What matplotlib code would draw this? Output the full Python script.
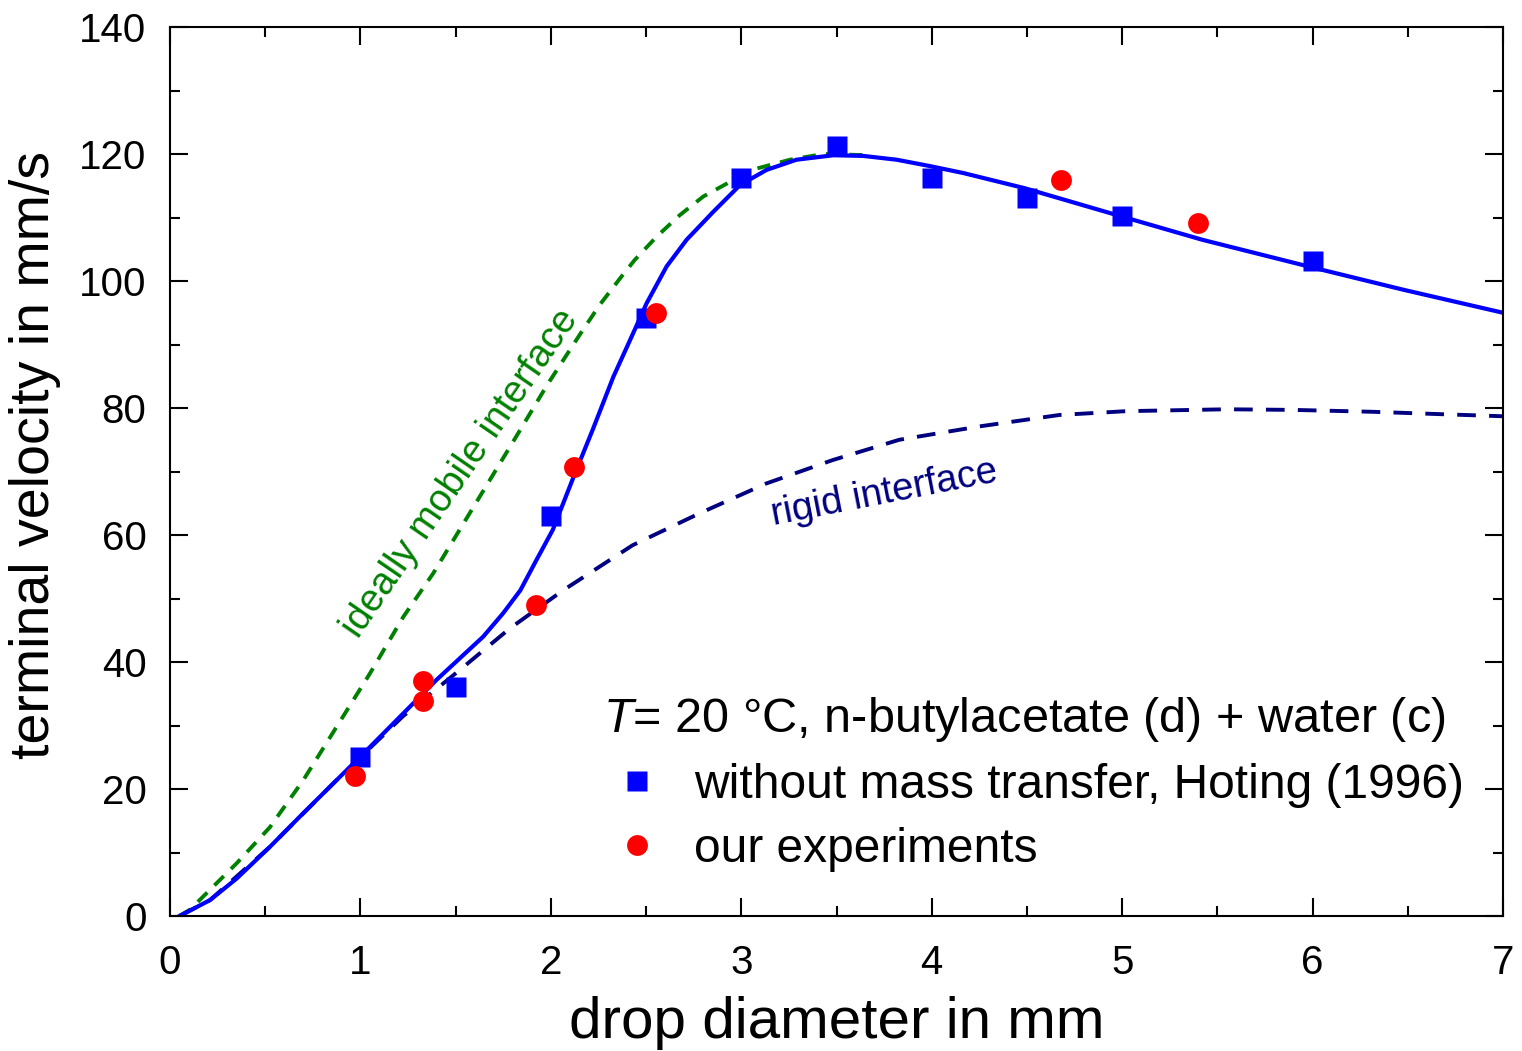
import matplotlib
matplotlib.use("Agg")
import matplotlib.pyplot as plt
from matplotlib.ticker import MultipleLocator
from matplotlib.lines import Line2D

plt.rcParams['font.family'] = ['Liberation Sans', 'DejaVu Sans']
plt.rcParams['mathtext.fontset'] = 'custom'
plt.rcParams['mathtext.it'] = 'Liberation Sans:italic'
plt.rcParams['mathtext.rm'] = 'Liberation Sans'

# Hoting (1996), without mass transfer
hoting_d = [1.0, 1.5, 2.0, 2.5, 3.0, 3.5, 4.0, 4.5, 5.0, 6.0]
hoting_v = [25, 36, 63, 94.2, 116.2, 121.3, 116.2, 113.1, 110.2, 103.1]

# our experiments
exp_d = [0.97, 1.33, 1.33, 1.92, 2.12, 2.55, 4.68, 5.40]
exp_v = [22.0, 37.0, 33.9, 49.0, 70.7, 95.0, 115.9, 109.1]

# model curve (solid)
model_d = [0.05, 0.21, 0.35, 0.525, 0.70, 0.875, 1.0, 1.225, 1.40, 1.645, 1.75, 1.84,
           1.925, 2.01, 2.12, 2.22, 2.328, 2.416, 2.503, 2.608, 2.713, 2.853, 2.993,
           3.133, 3.29, 3.483, 3.64, 3.816, 3.99, 4.166, 4.49, 4.97, 5.42, 5.99, 6.48, 7.0]
model_v = [0.0, 2.5, 5.9, 10.9, 16.2, 21.4, 25.1, 31.9, 37.2, 44.0, 47.7, 51.3,
           56.1, 60.8, 69.2, 76.6, 84.9, 90.7, 96.5, 102.3, 106.5, 110.9, 115.1,
           117.5, 119.1, 119.8, 119.7, 119.1, 118.1, 117.0, 114.6, 110.4, 106.5, 102.2, 98.6, 95.0]

# ideally mobile interface (green dashed)
mobile_d = [0.05, 0.105, 0.35, 0.525, 0.70, 0.875, 1.05, 1.225, 1.383, 1.82, 1.98,
            2.153, 2.258, 2.363, 2.44, 2.556, 2.678, 2.80, 2.94, 3.08, 3.256, 3.43, 3.676]
mobile_v = [0.0, 1.0, 8.3, 14.0, 21.4, 29.8, 38.2, 47.1, 54.0, 75.6, 83.6,
            91.6, 96.3, 100.4, 103.3, 107.0, 110.4, 113.3, 115.6, 117.7, 119.1, 120.0, 119.8]

# rigid interface (navy dashed)
rigid_d = [0.05, 0.21, 0.525, 0.875, 1.0, 1.225, 1.52, 1.785, 2.065, 2.43, 2.78, 3.13,
           3.48, 3.83, 4.25, 4.67, 5.02, 5.55, 5.9, 6.32, 6.7, 7.0]
rigid_v = [0.0, 2.5, 10.9, 21.4, 25.0, 31.5, 38.7, 45.3, 51.3, 58.4, 63.4, 68.1,
           71.8, 75.0, 77.1, 78.9, 79.5, 79.8, 79.7, 79.4, 79.0, 78.7]

fig = plt.figure(figsize=(15.22, 10.51), dpi=100)
ax = fig.add_axes([170/1522, 1-916/1051, (1503-170)/1522, (916-27)/1051])

ax.plot(rigid_d, rigid_v, color='#000080', lw=2.8, dashes=(4.8, 3.4))
ax.plot(mobile_d, mobile_v, color='#008000', lw=2.8, dashes=(3.4, 2.6))
ax.plot(model_d, model_v, color='#0000ff', lw=3.0)
ax.plot(hoting_d, hoting_v, ls='none', marker='s', ms=14, color='#0000ff', mec='none')
ax.plot(exp_d, exp_v, ls='none', marker='o', ms=15, color='#ff0000', mec='none')

ax.set_xlim(0, 7)
ax.set_ylim(0, 140)
ax.xaxis.set_major_locator(MultipleLocator(1))
ax.xaxis.set_minor_locator(MultipleLocator(0.5))
ax.yaxis.set_major_locator(MultipleLocator(20))
ax.yaxis.set_minor_locator(MultipleLocator(10))
ax.tick_params(which='both', direction='in', top=True, right=True, width=1.5)
ax.tick_params(which='major', length=13, labelsize=29)
ax.tick_params(axis='x', which='major', pad=20)
ax.tick_params(axis='y', which='major', pad=17)
ax.tick_params(which='minor', length=7)
for s in ax.spines.values():
    s.set_linewidth(1.5)

ax.set_xlabel('drop diameter in mm', fontsize=42, labelpad=10)
ax.set_ylabel('terminal velocity in mm/s', fontsize=40)
ax.yaxis.set_label_coords(-0.082, 0.519)

ax.text(0.99, 43.6, 'ideally mobile interface', color='#008000', fontsize=27.5,
        rotation=55.5, rotation_mode='anchor', ha='left', va='baseline')
ax.text(3.17, 61.6, 'rigid interface', color='#000080', fontsize=27.5,
        rotation=11.0, rotation_mode='anchor', ha='left', va='baseline')

h1 = Line2D([], [], ls='none', marker='s', ms=14, color='#0000ff', mec='none')
h2 = Line2D([], [], ls='none', marker='o', ms=15, color='#ff0000', mec='none')
leg = ax.legend([h1, h2], ['without mass transfer, Hoting (1996)', 'our experiments'],
                title='$T$= 20 °C, n-butylacetate (d) + water (c)',
                loc='upper left', bbox_to_anchor=(0.325, 0.249), frameon=False,
                fontsize=34.5, title_fontsize=35, borderpad=0, borderaxespad=0,
                handlelength=1.4, handletextpad=0.5, labelspacing=0.4,
                alignment='left')

fig.savefig('out.png', dpi=100)
